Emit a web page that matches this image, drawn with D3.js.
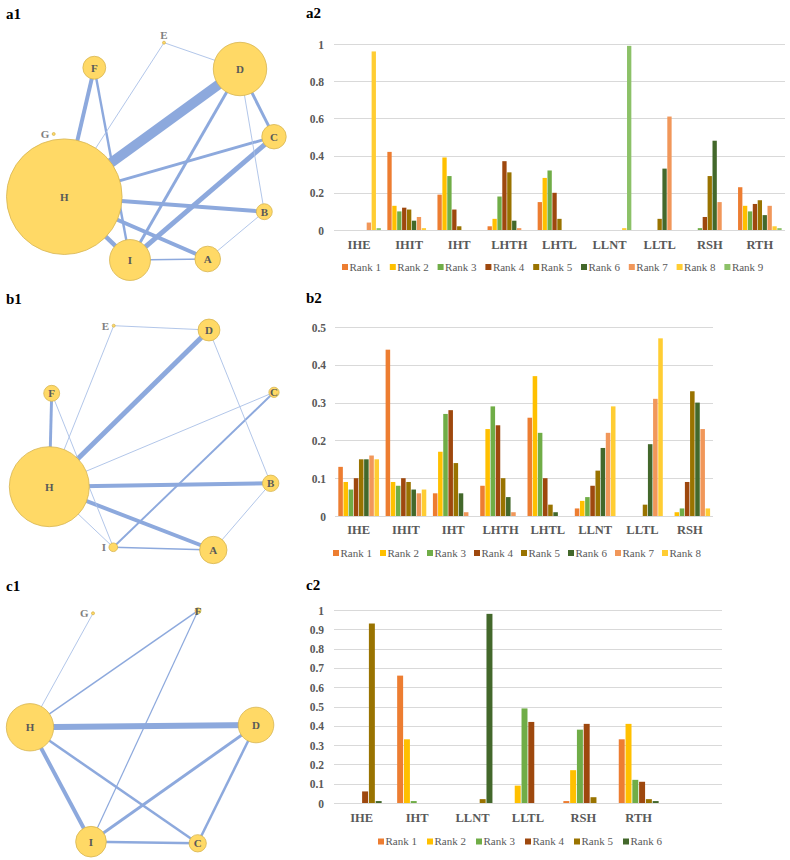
<!DOCTYPE html>
<html><head><meta charset="utf-8">
<script src="https://cdn.jsdelivr.net/npm/d3@7"></script>
<style>
html,body{margin:0;padding:0;background:#fff;}
svg{display:block;}
svg text{font-family:"Liberation Serif","Times New Roman",Times,serif;}
</style></head>
<body>
<svg id="fig" width="790" height="860"></svg>
<script>
// ---------------- DATA ----------------
const rankNames9 = ["Rank 1","Rank 2","Rank 3","Rank 4","Rank 5","Rank 6","Rank 7","Rank 8","Rank 9"];
const rankColors = ["#ED7D31","#FFC000","#70AD47","#9E480E","#997300","#43682B","#F1975A","#FFCD33","#8CC168"];

const a2Categories = ["IHE","IHIT","IHT","LHTH","LHTL","LLNT","LLTL","RSH","RTH"];
const a2Values = [
  [0,0,0,0,0,0,0.04,0.96,0.01],
  [0.42,0.13,0.10,0.12,0.11,0.05,0.07,0.01,0],
  [0.19,0.39,0.29,0.11,0.02,0,0,0,0],
  [0.02,0.06,0.18,0.37,0.31,0.05,0.01,0,0],
  [0.15,0.28,0.32,0.20,0.06,0,0,0,0],
  [0,0,0,0,0,0,0,0.01,0.99],
  [0,0,0,0,0.06,0.33,0.61,0,0],
  [0,0,0.01,0.07,0.29,0.48,0.15,0,0],
  [0.23,0.13,0.10,0.14,0.16,0.08,0.13,0.02,0.01]
];
const a2Ticks = [0,0.2,0.4,0.6,0.8,1];

const b2Categories = ["IHE","IHIT","IHT","LHTH","LHTL","LLNT","LLTL","RSH"];
const b2Values = [
  [0.13,0.09,0.07,0.10,0.15,0.15,0.16,0.15],
  [0.44,0.09,0.08,0.10,0.09,0.07,0.06,0.07],
  [0.06,0.17,0.27,0.28,0.14,0.06,0.01,0],
  [0.08,0.23,0.29,0.24,0.10,0.05,0.01,0],
  [0.26,0.37,0.22,0.10,0.03,0.01,0,0],
  [0.02,0.04,0.05,0.08,0.12,0.18,0.22,0.29],
  [0,0,0,0,0.03,0.19,0.31,0.47],
  [0,0.01,0.02,0.09,0.33,0.30,0.23,0.02]
];
const b2Ticks = [0,0.1,0.2,0.3,0.4,0.5];

const c2Categories = ["IHE","IHT","LLNT","LLTL","RSH","RTH"];
const c2Values = [
  [0,0,0,0.06,0.93,0.01],
  [0.66,0.33,0.01,0,0,0],
  [0,0,0,0,0.02,0.98],
  [0,0.09,0.49,0.42,0,0],
  [0.01,0.17,0.38,0.41,0.03,0],
  [0.33,0.41,0.12,0.11,0.02,0.01]
];
const c2Ticks = [0,0.1,0.2,0.3,0.4,0.5,0.6,0.7,0.8,0.9,1];

// network nodes: [name, sample size] ; edges: [from, to, number of comparisons]
const a1Nodes = [["A",44],["B",17],["C",40],["D",191],["E",0.6],["F",35],["G",0.6],["H",894],["I",112]];
const a1Edges = [["H","D",10],["C","I",5],["H","I",4.5],["F","H",4],["H","B",4],["H","A",4],
  ["H","C",3],["D","I",3],["D","C",3],["F","I",2.5],["I","A",1.5],["E","D",1],["E","H",1],["D","B",1],["B","A",1]];

const b1Nodes = [["A",50],["B",18],["C",7],["D",32],["E",0.6],["F",17],["H",428],["I",5]];
const b1Edges = [["H","D",5],["H","B",4],["H","A",4],["H","F",3],["C","I",2],["I","A",1.6],
  ["E","D",1],["E","H",1],["H","C",1],["H","I",1],["F","I",1],["D","B",1],["B","A",1]];

const c1Nodes = [["C",20],["D",85],["F",2.4],["G",0.6],["H",150],["I",63]];
const c1Edges = [["H","D",6],["H","I",4],["I","D",3],["H","C",2.6],["I","C",2.6],["D","C",2.6],
  ["F","H",1.6],["F","I",1.3],["G","H",1]];

// ---------------- LAYOUT (positions, not data) ----------------
const a1Layout = {A:[207.7,259,"c"],B:[264.3,211.7,"c"],C:[274,136.7,"c"],D:[240,69,"c"],E:[164,42.7,"t"],
  F:[94.3,67.7,"c"],G:[53.7,134,"l"],H:[64.3,196.7,"c"],I:[130,260,"c"]};
const b1Layout = {A:[213.3,550,"c"],B:[270.7,483.3,"c"],C:[274,392.3,"c"],D:[209,330,"c"],E:[113.7,325.7,"l"],
  F:[51.7,393.3,"c"],H:[49.3,486.7,"c"],I:[113.3,547.3,"l"]};
const c1Layout = {C:[197.7,843.3,"c"],D:[256,725,"c"],F:[198,610.7,"c"],G:[93,613.3,"l"],H:[30,727.3,"c"],I:[91,841.7,"c"]};

// ---------------- DRAW ----------------
const svg = d3.select("#fig");
const labelGray = "#595959";
const SERIF = '"Liberation Serif","Times New Roman",Times,serif';

function panelLabel(txt, x, y){
  svg.append("text").attr("x",x).attr("y",y).text(txt)
    .style("font-family",SERIF)
    .attr("font-size",15).attr("font-weight","bold").attr("fill","#000");
}

const rScale = d3.scaleSqrt().domain([0,900]).range([0,58]);
const wScale = d3.scaleLinear().domain([1,10]).range([0.9,10]);

function drawNetwork(nodes, edges, layout){
  const g = svg.append("g");
  const pos = {};
  nodes.forEach(([n,s]) => { pos[n] = {x:layout[n][0], y:layout[n][1], lp:layout[n][2], r:rScale(s)}; });
  g.selectAll("line.e").data(edges).enter().append("line")
    .attr("x1",d=>pos[d[0]].x).attr("y1",d=>pos[d[0]].y)
    .attr("x2",d=>pos[d[1]].x).attr("y2",d=>pos[d[1]].y)
    .attr("stroke", d => d[2] <= 1 ? "#A9BFE6" : "#8DA9DD")
    .attr("stroke-width",d=>wScale(d[2]));
  g.selectAll("circle").data(nodes).enter().append("circle")
    .attr("cx",d=>pos[d[0]].x).attr("cy",d=>pos[d[0]].y).attr("r",d=>rScale(d[1]))
    .attr("fill","#FFD966").attr("stroke","#D7B552").attr("stroke-width",0.8);
  g.selectAll("text").data(nodes).enter().append("text")
    .attr("x",d=>{const p=pos[d[0]]; return p.lp==="l" ? p.x-p.r-3 : p.x;})
    .attr("y",d=>{const p=pos[d[0]]; return p.lp==="t" ? p.y-p.r-6 : p.y;})
    .attr("text-anchor",d=>pos[d[0]].lp==="l" ? "end" : "middle")
    .attr("dominant-baseline","central")
    .style("font-family",SERIF)
    .attr("font-size",11).attr("font-weight","bold")
    .attr("fill",d=>pos[d[0]].lp==="c" ? labelGray : "#7F7F7F")
    .text(d=>d[0]);
}

function drawBars(cfg){
  const g = svg.append("g");
  const nR = cfg.values[0].length;
  const ranks = rankNames9.slice(0,nR);
  const x = d3.scaleBand().domain(cfg.categories).range([cfg.x0, cfg.x0 + cfg.step*cfg.categories.length]).padding(0);
  const y = d3.scaleLinear().domain(cfg.domain).range([cfg.y0, cfg.y1]);
  const bw = x.bandwidth();
  const xi = d3.scaleBand().domain(ranks).range([bw*(1-cfg.frac)/2, bw*(1+cfg.frac)/2]).paddingInner(0.12);
  // grid
  g.selectAll("line.grid").data(cfg.ticks).enter().append("line")
    .attr("x1",cfg.x0).attr("x2",cfg.gridEnd).attr("y1",d=>Math.round(y(d))+0.5).attr("y2",d=>Math.round(y(d))+0.5)
    .attr("stroke","#D9D9D9").attr("stroke-width",1);
  // y tick labels via axis
  const yAxis = d3.axisLeft(y).tickValues(cfg.ticks).tickSize(0).tickPadding(0).tickFormat(d3.format("~g"));
  const ya = g.append("g").attr("transform",`translate(${cfg.tickX},0)`).call(yAxis);
  ya.attr("font-family",null);
  ya.select(".domain").remove();
  ya.selectAll("text").style("font-family",SERIF).attr("font-size",11.5)
    .attr("font-weight","bold").attr("fill",labelGray).attr("dy","0.35em");
  // bars
  const groups = g.selectAll("g.cat").data(cfg.values).enter().append("g")
    .attr("transform",(d,i)=>`translate(${x(cfg.categories[i])},0)`);
  groups.selectAll("rect").data(d=>d.map((v,j)=>({v, r:ranks[j], j}))).enter()
    .filter(d=>d.v>0).append("rect")
    .attr("x",d=>xi(d.r)).attr("width",xi.bandwidth())
    .attr("y",d=>y(d.v)).attr("height",d=>y(0)-y(d.v))
    .attr("fill",d=>rankColors[d.j]);
  // category labels via axis
  const xAxis = d3.axisBottom(x).tickSize(0).tickPadding(0);
  const xa = g.append("g").attr("transform",`translate(0,${cfg.catY})`).call(xAxis);
  xa.attr("font-family",null);
  xa.select(".domain").remove();
  xa.selectAll("text").style("font-family",SERIF).attr("font-size",12.5)
    .attr("font-weight","bold").attr("fill",labelGray).attr("dy","0.35em");
  // legend
  const lg = g.selectAll("g.leg").data(ranks).enter().append("g")
    .attr("transform",(d,i)=>`translate(${cfg.legX + i*cfg.legStep},${cfg.legY})`);
  lg.append("rect").attr("x",0).attr("y",-3).attr("width",6).attr("height",6).attr("fill",(d,i)=>rankColors[i]);
  lg.append("text").attr("x",7.5).attr("y",0).attr("dy","0.35em").attr("font-size",11)
    .style("font-family",SERIF)
    .attr("fill",labelGray).text(d=>d);
}

// a1
panelLabel("a1",6,19);
drawNetwork(a1Nodes,a1Edges,a1Layout);
// a2
panelLabel("a2",306,18);
drawBars({categories:a2Categories, values:a2Values, ticks:a2Ticks, domain:[0,1],
  x0:334, step:50.1, gridEnd:785, y0:230, y1:44, tickX:324, frac:0.87, catY:244.5,
  legX:342, legStep:47.8, legY:267});
// b1
panelLabel("b1",6,304);
drawNetwork(b1Nodes,b1Edges,b1Layout);
// b2
panelLabel("b2",306,303);
drawBars({categories:b2Categories, values:b2Values, ticks:b2Ticks, domain:[0,0.5],
  x0:335, step:47.3, gridEnd:713, y0:516, y1:327, tickX:326, frac:0.86, catY:530,
  legX:333, legStep:47, legY:553});
// c1
panelLabel("c1",6,591);
drawNetwork(c1Nodes,c1Edges,c1Layout);
// c2
panelLabel("c2",306,590);
drawBars({categories:c2Categories, values:c2Values, ticks:c2Ticks, domain:[0,1],
  x0:334, step:55.4, gridEnd:722, y0:803, y1:610, tickX:324, frac:0.72, catY:818,
  legX:378, legStep:49, legY:841.5});
</script>
</body></html>
